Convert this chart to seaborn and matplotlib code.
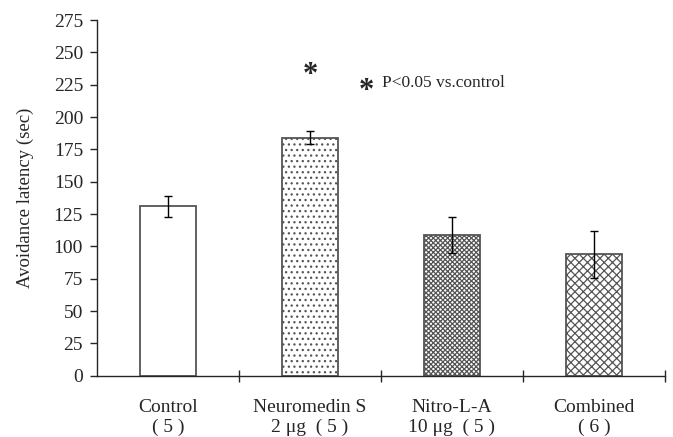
import matplotlib
matplotlib.use("Agg")
import matplotlib.pyplot as plt
import seaborn as sns
import pandas as pd

grupos = ["Control\n( 5 )", "Neuromedin S\n2 \u03bcg  ( 5 )", "Nitro-L-A\n10 \u03bcg  ( 5 )", "Combined\n( 6 )"]
medias = [131, 184, 109, 94]
errores = [8, 5, 14, 18]
tramas = ["", "...", "xxxxxxx", "xxxx"]

sns.set_style("ticks")
plt.rcParams["font.family"] = ["Liberation Serif", "DejaVu Serif"]
plt.rcParams["hatch.linewidth"] = 0.9
plt.rcParams["hatch.color"] = "#2a2a2a"

df = pd.DataFrame({"grupo": grupos, "media": medias})

fig = plt.figure(figsize=(6.73, 4.37), dpi=100)
ax = fig.add_axes([0.144, 0.14, 0.844, 0.814])
sns.barplot(data=df, x="grupo", y="media", color="white", edgecolor="#555555",
            linewidth=1.3, width=0.4, ax=ax)
for barra, trama in zip(ax.patches, tramas):
    barra.set_hatch(trama)
ax.errorbar(range(len(medias)), medias, yerr=errores, fmt="none",
            ecolor="black", elinewidth=1.0, capsize=3, capthick=1.0)

ax.set_xlim(-0.5, 3.5)
ax.set_ylim(0, 275)
ax.set_yticks(range(0, 276, 25))
ax.set_xticks(range(4))
ax.set_xticks([0.5, 1.5, 2.5, 3.5], minor=True)
ax.tick_params(axis="x", which="major", length=0, pad=17, labelsize=14)
ax.tick_params(axis="x", which="minor", length=8, direction="inout", width=1)
ax.tick_params(axis="y", length=5, width=1, labelsize=14, pad=5)
for lab in ax.get_xticklabels():
    lab.set_linespacing(1.2)
ax.set_xlabel("")
ax.set_ylabel("Avoidance latency (sec)", fontsize=13.5, labelpad=14)
sns.despine(ax=ax)
for s in ["left", "bottom"]:
    ax.spines[s].set_linewidth(1.0)

ax.text(1, 232, "*", ha="center", va="center", fontsize=22, fontweight="bold")
ax.text(1.4, 220, "*", ha="center", va="center", fontsize=22, fontweight="bold")
ax.text(1.51, 226, "P<0.05 vs.control", ha="left", va="center", fontsize=12.5)

fig.savefig("out.png", dpi=100)
